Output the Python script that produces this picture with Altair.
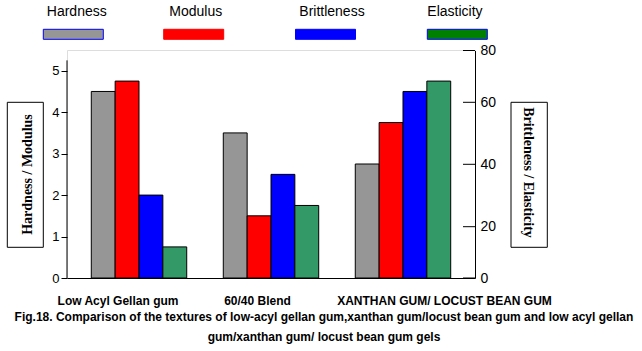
import altair as alt
import pandas as pd

# ---- data ----
categories = ["Low Acyl Gellan gum", "60/40 Blend", "XANTHAN GUM/ LOCUST BEAN GUM"]
series = ["Hardness", "Modulus", "Brittleness", "Elasticity"]
hardness = [4.5, 3.5, 2.75]
modulus = [4.75, 1.5, 3.75]
brittleness = [2.0, 2.5, 4.5]
elasticity = [0.75, 1.75, 4.75]
left_ticks = [0, 1, 2, 3, 4, 5]
right_ticks = [0, 20, 40, 60, 80]
caption = [
    "Fig.18. Comparison of the textures of low-acyl gellan gum,xanthan gum/locust bean gum and low acyl gellan",
    "gum/xanthan gum/ locust bean gum gels",
]

# ---- styles ----
bar_colors = ["#969696", "#ff0000", "#0000ff", "#339966"]
legend_fill = ["#969696", "#ff0000", "#0000ff", "#008000"]
legend_stroke = ["#0000ff", "#ff0000", "#0000ff", "#0000ff"]
label_dx = [-17, -13.5, 37.5]
legend_box_shift = [0, -7.6, -3.8, 0]
legend_text_shift = [0, -5.5, -3.5, -3.5]
right_axis_pixels = [228, 176.7, 114.3, 52.3, 0.5]  # the source axis has uneven tick spacing
SANS = "Liberation Sans"
SERIF = "Liberation Serif"

rows = []
for i, c in enumerate(categories):
    for s, vals in zip(series, [hardness, modulus, brittleness, elasticity]):
        rows.append({"cat": c, "series": s, "value": vals[i]})
df = pd.DataFrame(rows)

W, H = 408, 228
xscale = alt.Scale(domain=categories, paddingInner=0.277, paddingOuter=0.184)
yleft = alt.Scale(domain=[0, 5.5], nice=False, zero=True)

bars = alt.Chart(df).mark_bar(stroke="black", strokeWidth=1).encode(
    x=alt.X("cat:N", scale=xscale, sort=categories,
            axis=alt.Axis(labels=False, ticks=False, title=None, domainColor="black",
                          domainWidth=1, grid=False)),
    xOffset=alt.XOffset("series:N", sort=series,
                        scale=alt.Scale(domain=series, paddingInner=0, paddingOuter=0)),
    y=alt.Y("value:Q", scale=yleft,
            axis=alt.Axis(values=left_ticks, domain=False, tickSize=6, tickColor="black",
                          labelPadding=2, labelFontSize=13, labelFont=SANS, labelColor="black",
                          grid=False, title="Hardness / Modulus", titleFont=SERIF,
                          titleFontSize=14, titleFontWeight="bold", titleAngle=270,
                          titleX=-39.5, titleY=124, titleAlign="center",
                          titleBaseline="middle", titleColor="black")),
    color=alt.Color("series:N", scale=alt.Scale(domain=series, range=bar_colors), legend=None),
)

one = pd.DataFrame({"k": [0]})

laxis = alt.Chart(one).mark_rule(color="black", strokeWidth=1).encode(
    x=alt.value(0),
    y=alt.Y(datum=0, type="quantitative", scale=yleft, axis=None),
    y2=alt.datum(5.25),
)

rticks = alt.Chart(pd.DataFrame({"v": right_ticks})).mark_rule(color="black", strokeWidth=1).encode(
    y=alt.Y("v:Q", scale=alt.Scale(domain=right_ticks, range=right_axis_pixels, nice=False),
            axis=alt.Axis(orient="right", values=right_ticks, ticks=False, domain=True,
                          domainColor="black", labelPadding=5, labelFontSize=14,
                          labelFont=SANS, labelColor="black", grid=False,
                          title="Brittleness / Elasticity", titleFont=SERIF, titleFontSize=14,
                          titleFontWeight="bold", titleAngle=90, titleX=52, titleY=122,
                          titleAlign="center", titleBaseline="middle", titleColor="black")),
    x=alt.value(W - 12),
    x2=alt.value(W),
)

catdf = pd.DataFrame({"cat": categories})
labels = []
for c, dx in zip(categories, label_dx):
    labels.append(
        alt.Chart(catdf).transform_filter(alt.datum.cat == c).mark_text(
            dx=dx, fontSize=12, fontWeight="bold", font=SANS, color="black", baseline="middle"
        ).encode(
            x=alt.X("cat:N", scale=xscale, sort=categories, axis=None),
            y=alt.value(250.7),
            text="cat:N",
        )
    )

legdf = pd.DataFrame({"series": series})
legx = alt.Scale(type="point", domain=series, range=[6.3, 390.3], padding=0)
legend_layers = []
for s, bshift, tshift in zip(series, legend_box_shift, legend_text_shift):
    legend_layers.append(
        alt.Chart(legdf).transform_filter(alt.datum.series == s).mark_bar(
            width=60, strokeWidth=1, xOffset=bshift
        ).encode(
            x=alt.X("series:N", scale=legx, sort=series, axis=None),
            y=alt.value(-20.7),
            y2=alt.value(-10.7),
            fill=alt.Fill("series:N", scale=alt.Scale(domain=series, range=legend_fill), legend=None),
            stroke=alt.Stroke("series:N", scale=alt.Scale(domain=series, range=legend_stroke), legend=None),
        )
    )
    legend_layers.append(
        alt.Chart(legdf).transform_filter(alt.datum.series == s).mark_text(
            align="left", baseline="middle", dx=-26.5 + tshift, fontSize=14, font=SANS, color="black"
        ).encode(
            x=alt.X("series:N", scale=legx, sort=series, axis=None),
            y=alt.value(-37.7),
            text="series:N",
        )
    )

lbox = alt.Chart(one).mark_rect(fillOpacity=0, stroke="black", strokeWidth=1).encode(
    x=alt.value(-59.7), x2=alt.value(-23.7), y=alt.value(52.3), y2=alt.value(197.3)
)
rbox = alt.Chart(one).mark_rect(fillOpacity=0, stroke="black", strokeWidth=1).encode(
    x=alt.value(444), x2=alt.value(480.3), y=alt.value(52.3), y2=alt.value(197.3)
)

chart = alt.layer(
    bars, laxis, rticks, *labels, *legend_layers, lbox, rbox
).resolve_scale(
    x="independent", y="independent"
).properties(
    width=W,
    height=H,
    autosize=alt.AutoSizeParams(type="none"),
    padding={"left": 67, "top": 50, "right": 167, "bottom": 73},
    title=alt.TitleParams(
        text=caption, orient="bottom", anchor="middle", frame="group", dx=53, offset=5,
        fontSize=12, fontWeight="bold", font=SANS, color="black", lineHeight=20,
        baseline="top",
    ),
).configure_view(stroke=None).configure(background="white")

chart.save("out.html", embed_options={"renderer": "svg", "actions": False})
